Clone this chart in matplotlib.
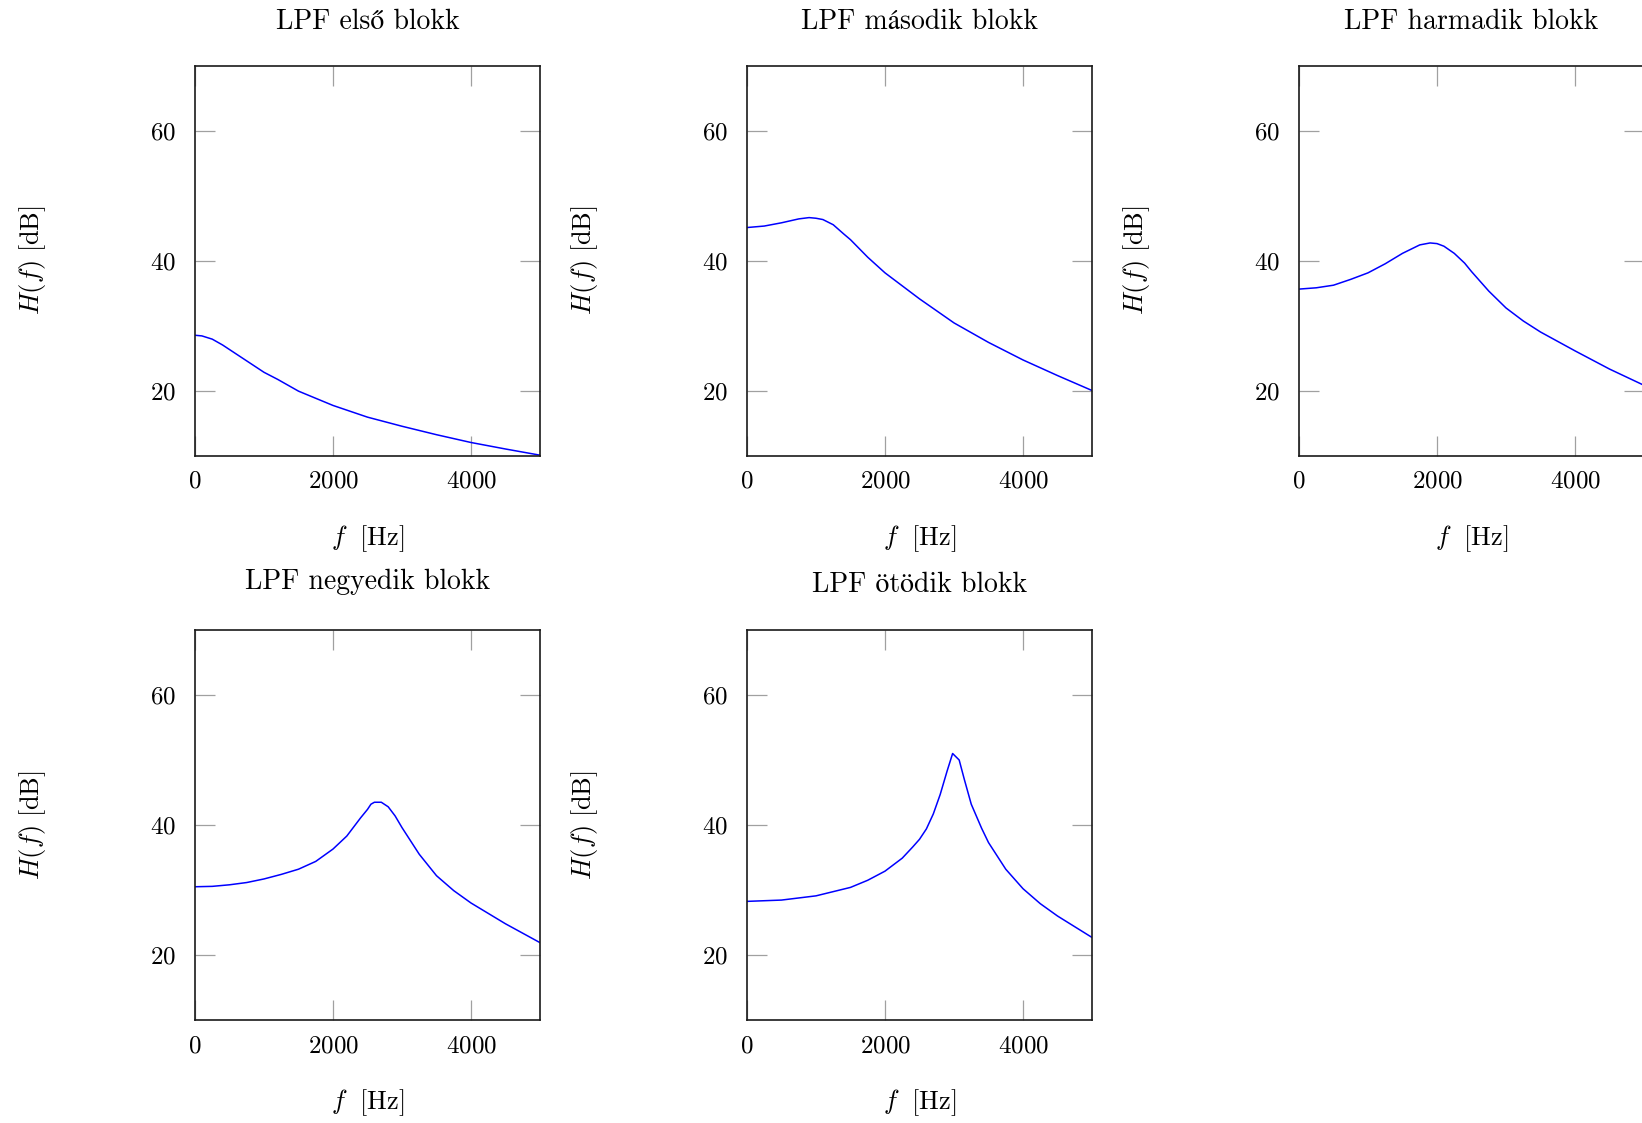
import numpy as np
import matplotlib
matplotlib.use("Agg")
import matplotlib.pyplot as plt

# values
titles = ["LPF első blokk", "LPF második blokk", "LPF harmadik blokk",
          "LPF negyedik blokk", "LPF ötödik blokk"]

f1 = [0, 100, 250, 400, 600, 800, 1000, 1200, 1500, 2000, 2500, 3000, 3500, 4000, 4500, 5000]
h1 = [28.5, 28.4, 27.9, 27.0, 25.6, 24.2, 22.8, 21.7, 19.9, 17.7, 15.9, 14.5, 13.2, 12.0, 11.0, 10.05]

f2 = [0, 250, 500, 750, 900, 1000, 1100, 1250, 1400, 1500, 1750, 2000, 2500, 3000, 3500,
      4000, 4500, 5000]
h2 = [45.07, 45.3, 45.8, 46.4, 46.6, 46.5, 46.3, 45.5, 44.1, 43.2, 40.5, 38.1, 34.1, 30.4, 27.4,
      24.7, 22.3, 20.0]

f3 = [0, 250, 500, 750, 1000, 1250, 1500, 1750, 1900, 2000, 2100, 2250, 2400, 2500, 2750,
      3000, 3250, 3500, 4000, 4500, 5000]
h3 = [35.6, 35.8, 36.2, 37.1, 38.1, 39.5, 41.1, 42.4, 42.7, 42.6, 42.2, 41.1, 39.6, 38.3, 35.3,
      32.7, 30.7, 29.0, 26.1, 23.3, 20.8]

f4 = [0, 250, 500, 750, 1000, 1250, 1500, 1750, 2000, 2200, 2400, 2500, 2550, 2600, 2700,
      2800, 2900, 3000, 3250, 3500, 3750, 4000, 4500, 5000]
h4 = [30.5, 30.56, 30.8, 31.15, 31.7, 32.4, 33.2, 34.4, 36.3, 38.3, 41.1, 42.4, 43.2, 43.5, 43.5,
      42.8, 41.4, 39.6, 35.5, 32.2, 29.9, 28.0, 24.8, 21.9]

f5 = [0, 500, 1000, 1500, 1750, 2000, 2250, 2400, 2500, 2600, 2700, 2800, 2900, 2980, 3075,
      3150, 3250, 3400, 3500, 3750, 4000, 4250, 4500, 5000]
h5 = [28.25, 28.45, 29.1, 30.4, 31.5, 32.9, 34.9, 36.6, 37.8, 39.4, 41.7, 44.7, 48.3, 51.0, 50.0,
      47.0, 43.2, 39.5, 37.3, 33.2, 30.2, 27.9, 26.0, 22.7]

freqs = [f1, f2, f3, f4, f5]
gains = [h1, h2, h3, h4, h5]

xticks = [0, 2000, 4000]
yticks = [20, 40, 60]

plt.rcParams["font.family"] = ["cmr10", "STIXGeneral", "DejaVu Serif"]
plt.rcParams["mathtext.fontset"] = "cm"
plt.rcParams["axes.formatter.use_mathtext"] = True
plt.rcParams["font.size"] = 18

W, H = 1642, 1123
fig = plt.figure(figsize=(W / 100, H / 100), dpi=100)

lefts = [195, 747, 1299, 195, 747]
tops = [65.5, 65.5, 65.5, 630, 630]
title_pads = [26.6, 26.6, 26.6, 29.3, 27.2]
aw, ah = 345, 390

for i in range(5):
    ax = fig.add_axes([lefts[i] / W, 1 - (tops[i] + ah) / H, aw / W, ah / H])
    ax.plot(freqs[i], gains[i], color="#0000ff", lw=1.1)
    ax.set_xlim(0, 5000)
    ax.set_ylim(10, 70)
    ax.set_xticks(xticks)
    ax.set_yticks(yticks)
    ax.tick_params(direction="in", length=14.5, width=0.9, color="#a0a0a0",
                   top=True, right=True, labelsize=18)
    ax.tick_params(axis="y", pad=14)
    ax.tick_params(axis="x", pad=11)
    for s in ax.spines.values():
        s.set_linewidth(1.2)
        s.set_color("#1a1a1a")
    ax.set_title(titles[i], pad=title_pads[i], va="baseline", fontsize=20)
    ax.set_xlabel(r"$f\ \ [\mathrm{Hz}]$", fontsize=19, va="center")
    ax.set_ylabel(r"$H(f)\ [\mathrm{dB}]$", fontsize=19, va="center")
    ax.xaxis.set_label_coords(0.5, -0.212)
    ax.yaxis.set_label_coords(-0.47, 0.5)

fig.savefig("out.png", dpi=100)
